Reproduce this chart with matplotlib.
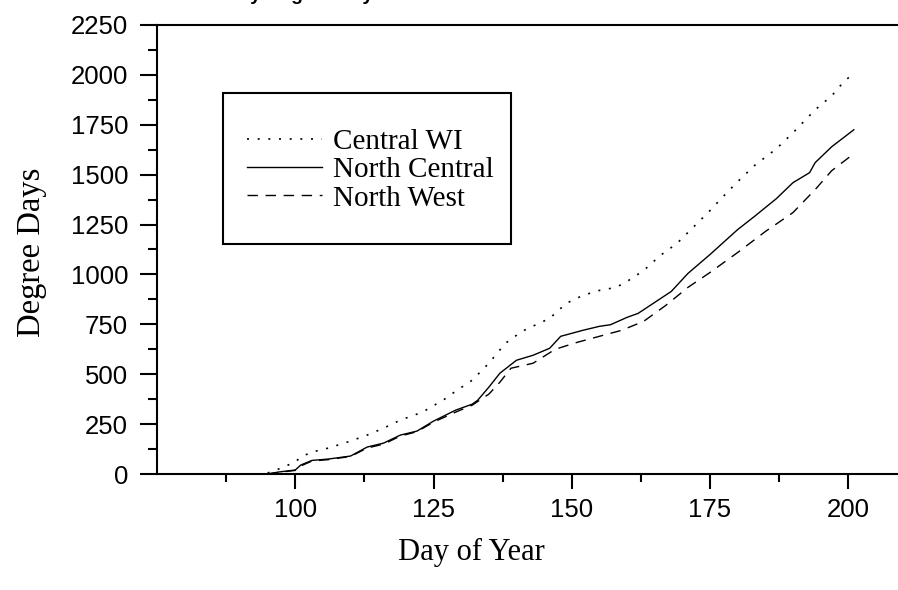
# Grados dia acumulados para tres regiones
import matplotlib
matplotlib.use("Agg")
import matplotlib.pyplot as plt
from matplotlib.patches import Rectangle
from matplotlib.ticker import MultipleLocator

diasCentral = [95, 97, 100, 101, 103, 106, 110, 113, 116, 119, 123, 127, 129, 132, 135, 138, 141,
               146, 149, 152, 155, 158, 160, 163, 166, 169, 171, 175, 177, 180, 183, 187, 190, 194,
               197, 199, 201]
valoresCentral = [5, 25, 60, 85, 110, 130, 165, 195, 230, 270, 310, 375, 415, 470, 555, 655, 715,
                  780, 855, 895, 920, 935, 965, 1020, 1095, 1155, 1210, 1320, 1380, 1465, 1545, 1630,
                  1710, 1825, 1895, 1960, 2010]

diasNorthCentral = [95, 97, 100, 101, 103, 106, 110, 113, 116, 119, 122, 125, 129, 132, 133, 135,
                    137, 140, 143, 146, 148, 152, 155, 157, 160, 162, 165, 168, 171, 175, 178, 180,
                    183, 187, 190, 193, 194, 197, 201]
valoresNorthCentral = [0, 10, 20, 45, 68, 75, 90, 135, 155, 195, 215, 265, 320, 350, 370, 435, 505,
                       570, 595, 630, 690, 720, 740, 748, 785, 805, 860, 915, 1005, 1100, 1175, 1225,
                       1290, 1380, 1460, 1510, 1560, 1640, 1725]

diasNorthWest = [95, 97, 100, 101, 103, 106, 110, 113, 116, 119, 122, 125, 129, 132, 135, 137, 139,
                 143, 147, 151, 155, 159, 163, 167, 171, 175, 180, 185, 190, 194, 197, 201]
valoresNorthWest = [0, 8, 18, 40, 65, 72, 88, 130, 150, 190, 212, 260, 310, 345, 400, 460, 530, 555,
                    625, 660, 690, 720, 765, 845, 935, 1010, 1110, 1215, 1310, 1425, 1520, 1605]

ANCHO, ALTO = 898, 590
FUENTE_NUM = "Liberation Sans"
FUENTE_TXT = "Liberation Serif"

fig = plt.figure(figsize=(ANCHO / 100, ALTO / 100), dpi=100)
# eje: x de 75 a 210, 5.53 px por dia; y de 0 a 2250 en 449 px
ax = fig.add_axes([157 / ANCHO, 116 / ALTO, 746.6 / ANCHO, 449 / ALTO])

ax.plot(diasCentral, valoresCentral, color="black", lw=1.2, dashes=(1.2, 5.2), label="Central WI")
ax.plot(diasNorthCentral, valoresNorthCentral, color="black", lw=1.0, label="North Central")
ax.plot(diasNorthWest, valoresNorthWest, color="black", lw=1.0, dashes=(7.5, 5.5), label="North West")

ax.set_xlim(75, 210)
ax.set_ylim(0, 2250)
ax.yaxis.set_major_locator(MultipleLocator(250))
ax.yaxis.set_minor_locator(MultipleLocator(125))
ax.set_xticks([100, 125, 150, 175, 200])
ax.set_xticks([87.5, 112.5, 137.5, 162.5, 187.5], minor=True)

for lado in ["left", "bottom", "top"]:
    ax.spines[lado].set_linewidth(1.5)
ax.spines["right"].set_visible(False)

ax.tick_params(axis="y", which="major", length=12.2, width=1.5, pad=8.5)
ax.tick_params(axis="y", which="minor", length=6.5, width=1.5)
ax.tick_params(axis="x", which="major", length=10.8, width=1.5, pad=6.5)
ax.tick_params(axis="x", which="minor", length=5.8, width=1.5)
for etiqueta in ax.get_xticklabels() + ax.get_yticklabels():
    etiqueta.set_fontfamily(FUENTE_NUM)
    etiqueta.set_fontsize(18.5)

ax.set_xlabel("Day of Year", fontfamily=FUENTE_TXT, fontsize=22)
ax.xaxis.set_label_coords((471 - 157) / 746.6, -78 / 449)
ax.xaxis.label.set_va("center")
ax.set_ylabel("Degree Days", fontfamily=FUENTE_TXT, fontsize=23.5)
ax.yaxis.set_label_coords((32 - 157) / 746.6, 221.5 / 449)
ax.yaxis.label.set_va("center")

# titulo cortado por el borde superior de la imagen, como en el original
fig.text(384 / ANCHO, 1.0, "Cumulative Daily Degree Days", ha="right", va="baseline",
         fontfamily=FUENTE_NUM, fontweight="bold", fontsize=14)

leyenda = ax.legend(loc="center left", bbox_to_anchor=(247 / ANCHO, 1 - 170 / ALTO),
                    bbox_transform=fig.transFigure, frameon=False, borderpad=0, borderaxespad=0,
                    handlelength=2.57, handletextpad=0.38, labelspacing=0.07,
                    prop={"family": FUENTE_TXT, "size": 21})
fig.patches.append(Rectangle((223 / ANCHO, 1 - 244 / ALTO), 288 / ANCHO, 151 / ALTO,
                             transform=fig.transFigure, fill=False, edgecolor="black", lw=1.5))

fig.savefig("out.png", dpi=100)
